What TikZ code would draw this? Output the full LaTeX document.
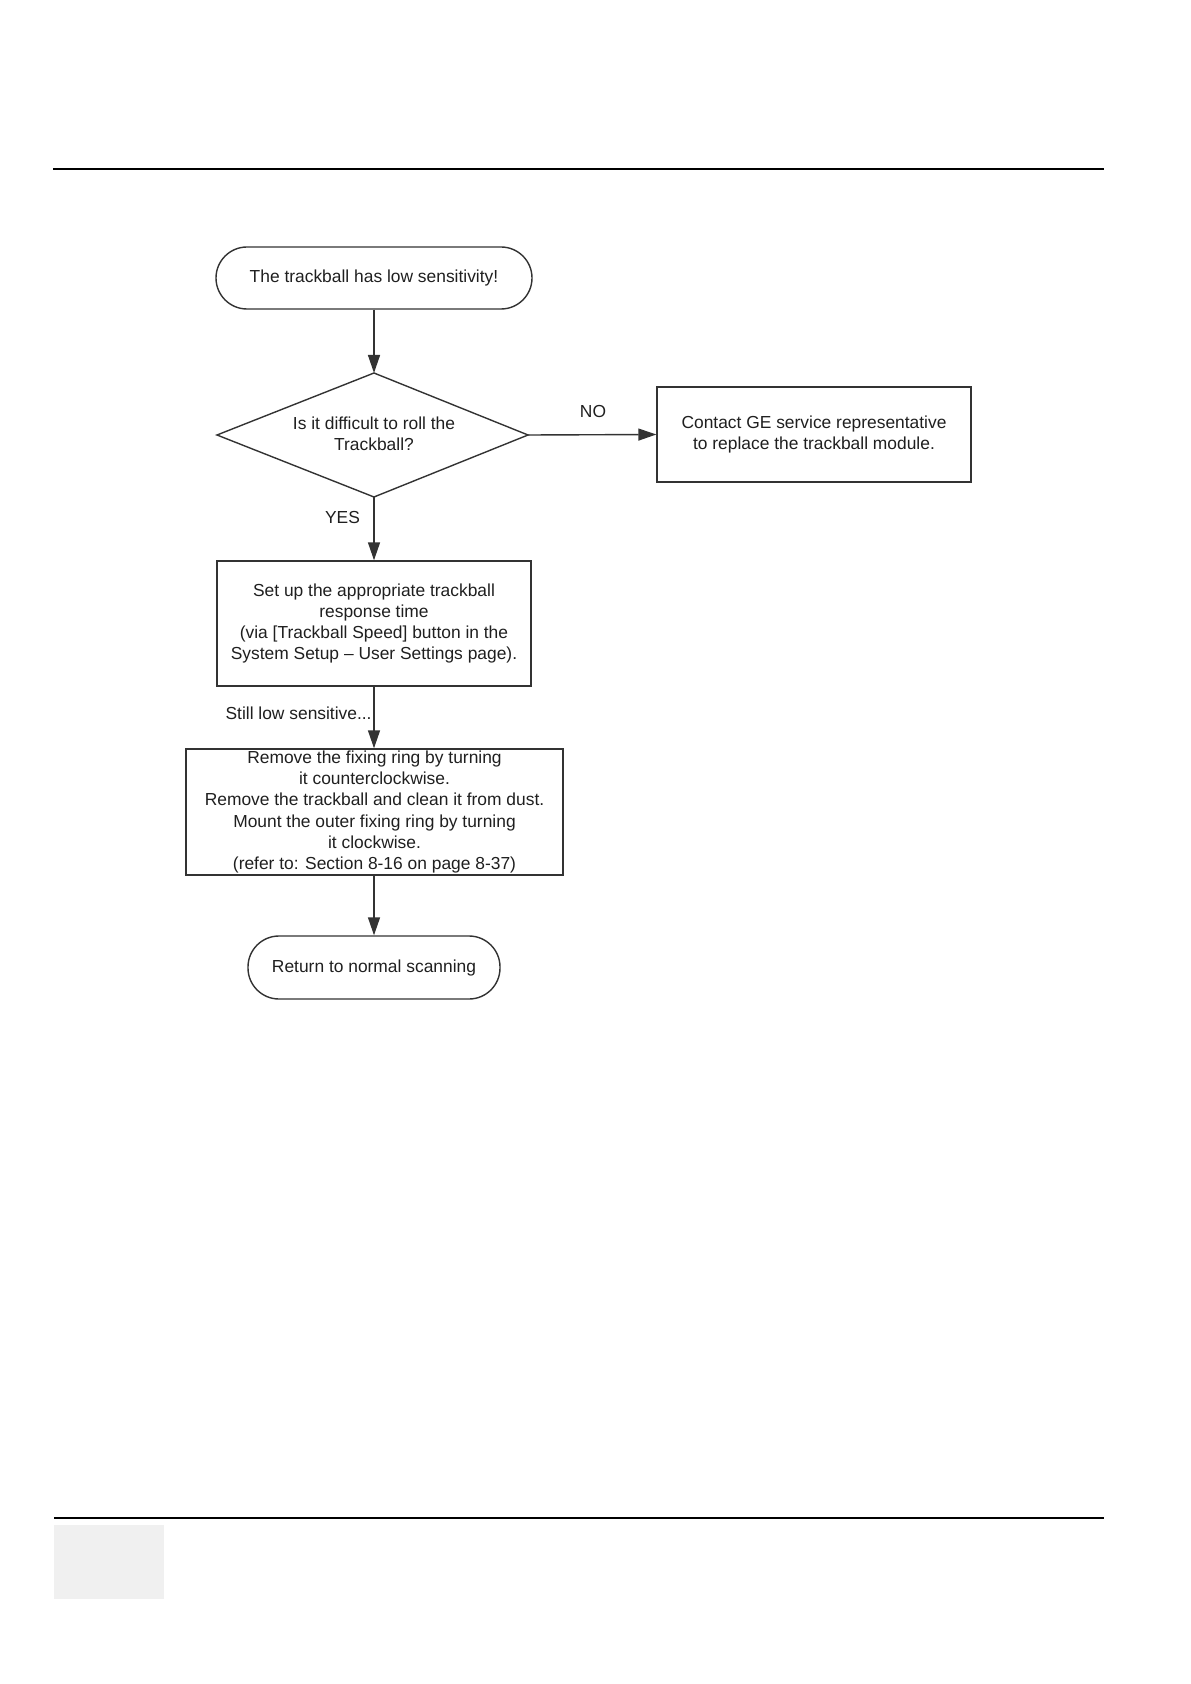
\documentclass[tikz,border=0pt]{standalone}
\usepackage{fontspec}
\setmainfont{Liberation Sans}
\usetikzlibrary{arrows.meta}
\begin{document}
\begin{tikzpicture}[x=0.5pt,y=-0.5pt,
  every node/.style={font=\fontsize{8.7}{10.6}\selectfont, text=black!88},
  shapeline/.style={draw=black!80, line width=0.7pt},
  term/.style={shapeline, rounded corners=15.5pt, inner sep=0pt, align=center},
  procbox/.style={shapeline, inner sep=0pt, align=center},
  flow/.style={draw=black!80, line width=0.7pt, -{Triangle[length=9pt,width=6pt]}},
  lbl/.style={inner sep=0pt}
]
\useasboundingbox (0,0) rectangle (1190,1684);

% page rules and footer box
\draw[line width=1.1pt] (53,169) -- (1104,169);
\draw[line width=0.65pt] (54,1518) -- (1104,1518);
\fill[black!6] (54,1525) rectangle (164,1599);

% nodes
\node[term, minimum width=158pt, minimum height=31pt] (start) at (374,278)
  {The trackball has low sensitivity!};

\coordinate (dT) at (374,373);
\coordinate (dB) at (374,497);
\coordinate (dL) at (217,435);
\coordinate (dR) at (528,435);
\draw[shapeline] (dT) -- (dR) -- (dB) -- (dL) -- cycle;
\node[lbl, align=center] (dec) at (374,434) {Is it difficult to roll the\\Trackball?};

\node[procbox, minimum width=157pt, minimum height=47.5pt] (contact) at (814,434.5)
  {Contact GE service representative\\to replace the trackball module.};

\node[procbox, minimum width=157pt, minimum height=62.5pt] (setup) at (374,623.5)
  {Set up the appropriate trackball\\response time\\(via [Trackball Speed] button in the\\System Setup -- User Settings page).};

\node[procbox, minimum width=188.5pt, minimum height=63pt] (clean) at (374.5,812)
  {Remove the fixing ring by turning\\it counterclockwise.\\Remove the trackball and clean it from dust.\\Mount the outer fixing ring by turning\\it clockwise.\\(refer to: Section 8-16 on page 8-37)};

\node[term, minimum width=126pt, minimum height=31.5pt] (done) at (374,967.5)
  {Return to normal scanning};

% connectors
\draw[flow] (start.south) -- (dT);
\draw[flow] (dR) -- (contact.west);
\draw[flow] (dB) -- (setup.north);
\draw[flow] (setup.south) -- (clean.north -| setup.south);
\draw[flow] (clean.south -| done.north) -- (done.north);

% labels
\node[lbl] (no) at (593,412) {NO};
\node[lbl] (yes) at (342.5,518) {YES};
\node[lbl, anchor=east] (still) at (372,713) {Still low sensitive...};
\end{tikzpicture}
\end{document}
